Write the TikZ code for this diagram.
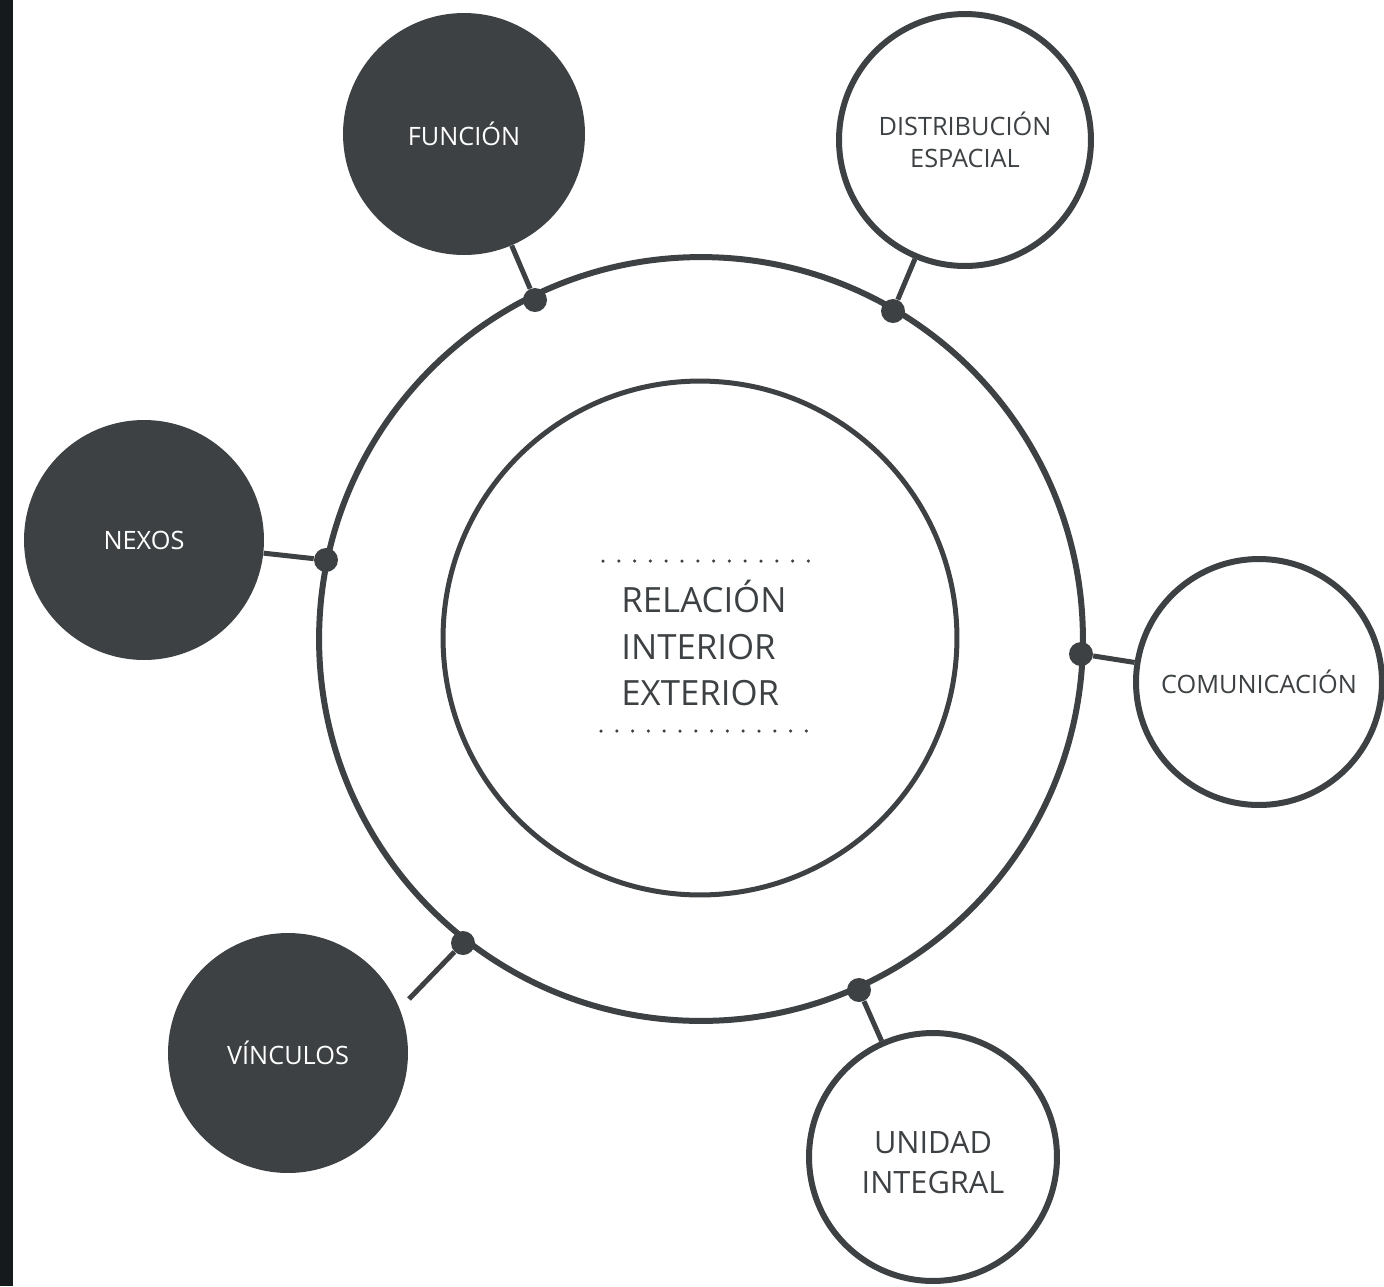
\documentclass[tikz,border=0pt]{standalone}
\usepackage{fontspec}
\setmainfont{Open Sans}
\definecolor{ink}{HTML}{3D4143}
\definecolor{strip}{HTML}{151A1D}

\begin{document}
\begin{tikzpicture}[x=0.02cm,y=-0.02cm,
    darkball/.style={circle,fill=ink,text=white,inner sep=0pt,align=center,
        font=\fontsize{14.4}{18}\selectfont},
    lightball/.style={circle,draw=ink,line width=0.12cm,fill=white,text=ink,inner sep=0pt,align=center,
        font=\fontsize{14.4}{18.2}\selectfont},
    knot/.style={circle,fill=ink,minimum size=0.48cm,inner sep=0pt},
    link/.style={draw=ink,line width=0.1cm}]
        % Rahmen
        \useasboundingbox (0,0) rectangle (1384,1286);
        \fill[strip] (0,0) rectangle (13,1286);

        % Ringe
        \node[circle,draw=ink,line width=0.12cm,minimum size=15.28cm,inner sep=0pt] (ring) at (701,639) {};
        \node[circle,draw=ink,line width=0.1cm,minimum size=10.28cm,inner sep=0pt] (core) at (700,638) {};

        % Titel
        \foreach \i in {0,...,13} {
            \fill[ink] (603+15.8*\i,561) circle (0.035cm);
            \fill[ink] (601+15.8*\i,731) circle (0.035cm);
        }
        \node[text=ink,align=left,inner sep=0pt,anchor=west,font=\fontsize{19.8}{26.7}\selectfont] (title) at (621,643) {RELACIÓN\\INTERIOR\\EXTERIOR};

        % Satelliten
        \node[darkball,minimum size=4.84cm] (funcion) at (464,134) {FUNCIÓN};
        \node[lightball,minimum size=5.04cm] (distribucion) at (965,140) {DISTRIBUCIÓN\\ESPACIAL};
        \node[darkball,minimum size=4.8cm] (nexos) at (144,540) {NEXOS};
        \node[lightball,minimum size=4.92cm] (comunicacion) at (1259,682) {COMUNICACIÓN};
        \node[darkball,minimum size=4.8cm] (vinculos) at (288,1053) {VÍNCULOS};
        \node[lightball,minimum size=4.96cm] (unidad) at (933,1157) {};
        \node[text=ink,align=center,inner sep=0pt,font=\fontsize{17.5}{22.8}\selectfont] (unidadtext) at (933,1163) {UNIDAD\\INTEGRAL};

        % Knoten
        \node[knot] (kfuncion) at (535,300) {};
        \node[knot] (kdistribucion) at (893,311) {};
        \node[knot] (knexos) at (326,560) {};
        \node[knot] (kcomunicacion) at (1081,654) {};
        \node[knot] (kvinculos) at (463,943) {};
        \node[knot] (kunidad) at (859,990) {};
        \coordinate (vinculosend) at (409,999);

        % Verbindungen
        \draw[link] (kfuncion) -- (funcion);
        \draw[link] (kdistribucion) -- (distribucion);
        \draw[link] (knexos) -- (nexos);
        \draw[link] (kcomunicacion) -- (comunicacion);
        \draw[link] (kvinculos) -- (vinculosend);
        \draw[link] (kunidad) -- (unidad);
    \end{tikzpicture}
\end{document}
